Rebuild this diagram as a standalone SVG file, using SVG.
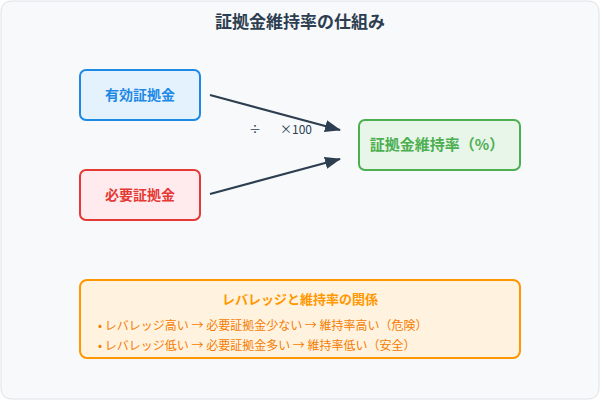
<svg xmlns="http://www.w3.org/2000/svg" width="600" height="400" viewBox="0 0 600 400">
<style>
text{font-family:"Noto Sans CJK JP","Liberation Sans",sans-serif}
.t{font-size:14px;font-weight:bold;text-anchor:middle}
.s{font-size:12px}
.c{stroke:#2c3e50;stroke-width:2;fill:none}
</style>
<defs><marker id="b" markerWidth="16" markerHeight="12" refX="15" refY="6" orient="auto" markerUnits="userSpaceOnUse"><polygon points="0 0,16 6,0 12" fill="#2c3e50"/></marker></defs>
<rect x="1" y="1" width="598" height="398" rx="10" fill="#f8f9fa" stroke="#dee2e6"/>
<text x="300" y="28" class="t" style="font-size:17px" fill="#2c3e50">証拠金維持率の仕組み</text>
<g id="n1"><rect x="80" y="70" width="120" height="50" rx="6" fill="#e3f2fd" stroke="#1e88e5" stroke-width="2"/><text x="140" y="100" class="t" fill="#1e88e5">有効証拠金</text></g>
<g id="n2"><rect x="80" y="170" width="120" height="50" rx="6" fill="#ffebee" stroke="#e53935" stroke-width="2"/><text x="140" y="200" class="t" fill="#e53935">必要証拠金</text></g>
<g id="n3"><rect x="359" y="120" width="161" height="50" rx="6" fill="#e8f5e9" stroke="#4caf50" stroke-width="2"/><text x="437" y="150" class="t" style="font-size:15px" fill="#4caf50">証拠金維持率（%）</text></g>
<g id="edges">
<line x1="210" y1="95" x2="340" y2="130" class="c" marker-end="url(#b)"/>
<line x1="210" y1="194" x2="340" y2="159" class="c" marker-end="url(#b)"/>
</g>
<text x="255" y="134" class="s" fill="#2c3e50" text-anchor="middle">÷</text>
<text x="296" y="134" class="s" fill="#2c3e50" text-anchor="middle">×100</text>
<g id="note"><rect x="80" y="280" width="440" height="78" rx="7" fill="#fff3e0" stroke="#ff9800" stroke-width="2"/>
<text x="300" y="304" class="t" style="font-size:13px" fill="#ff9800">レバレッジと維持率の関係</text>
<text x="98" y="330" class="s" fill="#f57c00">• レバレッジ高い → 必要証拠金少ない → 維持率高い（危険）</text>
<text x="98" y="350" class="s" fill="#f57c00">• レバレッジ低い → 必要証拠金多い → 維持率低い（安全）</text></g>
</svg>
